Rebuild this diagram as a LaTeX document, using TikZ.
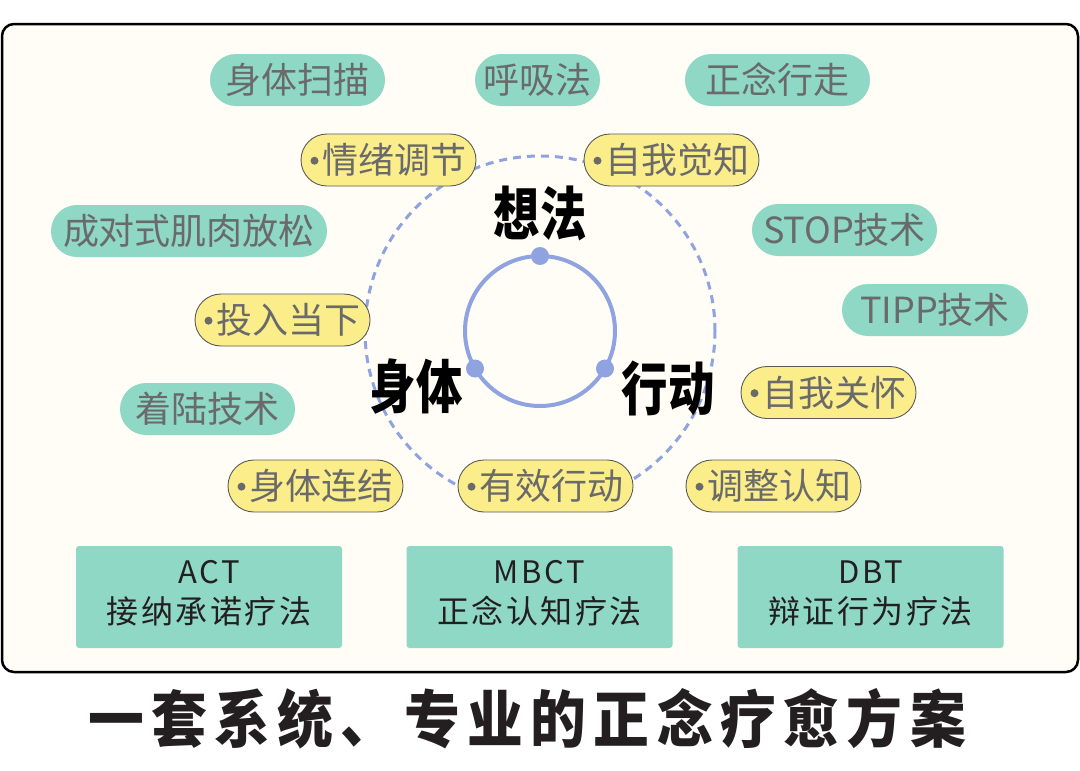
\documentclass[tikz,border=0pt]{standalone}
\usepackage{fontspec}
\newfontfamily\cjk{Noto Sans CJK SC}
\newfontfamily\cjksp[LetterSpace=8]{Noto Sans CJK SC}
\newfontfamily\cjklat[LetterSpace=9]{Noto Sans CJK SC}
\newfontfamily\cjkc[FakeStretch=0.8]{Noto Sans CJK SC}
\newfontfamily\cjkt[FakeStretch=0.9,LetterSpace=12]{Noto Sans CJK SC}
\definecolor{cream}{HTML}{FFFDF6}
\definecolor{pillgreen}{HTML}{8ED8C5}
\definecolor{pillyellow}{HTML}{FBEE8A}
\definecolor{txtgray}{HTML}{6A6A6A}
\definecolor{bordergray}{HTML}{5A5A5A}
\definecolor{ringblue}{HTML}{8EA3DF}
\definecolor{boxtext}{HTML}{231F20}
\newcommand\bul{\tikz[baseline=-0.36em]\fill[txtgray] (0,0) circle (4pt);\hspace{4pt}}
\tikzset{
  gpill/.style={fill=pillgreen, rounded corners=26pt, minimum height=52pt, inner sep=0pt,
    text=txtgray, font=\cjk\fontsize{36}{40}\selectfont},
  ypill/.style={gpill, fill=pillyellow, draw=bordergray, line width=0.9pt, minimum width=175pt},
  methodbox/.style={fill=pillgreen, rounded corners=3pt, minimum width=266pt, minimum height=102pt,
    inner sep=0pt},
  methodname/.style={font=\cjklat\fontsize{31}{31}\selectfont, text=boxtext, inner sep=0pt},
  methodcn/.style={font=\cjksp\fontsize{32}{32}\selectfont, text=boxtext, inner sep=0pt},
  corelabel/.style={font=\cjkc\bfseries\fontsize{58}{60}\selectfont, text=black, inner sep=0pt},
  dotmark/.style={fill=ringblue, circle, inner sep=0pt, minimum size=18pt}
}
\begin{document}
\begin{tikzpicture}[x=1pt,y=-1pt]
\useasboundingbox (0,0) rectangle (1080,771);
\fill[white] (0,0) rectangle (1080,771);
% frame
\draw[line width=2.5pt, fill=cream, rounded corners=12pt] (2,24) rectangle (1078,672);
% rings
\coordinate (c) at (540,331);
\draw[ringblue, line width=3pt, dash pattern=on 8pt off 6pt] (c) circle (175pt);
\draw[ringblue, line width=4pt] (c) circle (75pt);
\node[dotmark] (dtop) at (540,256) {};
\node[dotmark] (dleft) at (475,368.5) {};
\node[dotmark] (dright) at (605,368.5) {};
% core labels
\node[corelabel] (think) at (540,213) {想法};
\node[corelabel] (body) at (416,387) {身体};
\node[corelabel] (act) at (668,388) {行动};
% green pills
\node[gpill, minimum width=175pt] (p1) at (297.5,80) {身体扫描};
\node[gpill, minimum width=125pt] (p2) at (537.5,80) {呼吸法};
\node[gpill, minimum width=185pt] (p3) at (777.5,80) {正念行走};
\node[gpill, minimum width=276pt] (p4) at (189,231) {成对式肌肉放松};
\node[gpill, minimum width=185pt] (p5) at (844.5,230) {STOP技术};
\node[gpill, minimum width=186pt] (p6) at (935,310) {TIPP技术};
\node[gpill, minimum width=175pt] (p7) at (207.5,409) {着陆技术};
% yellow pills
\node[ypill] (y1) at (388.5,160) {\bul 情绪调节};
\node[ypill] (y2) at (671.5,160) {\bul 自我觉知};
\node[ypill] (y3) at (282.5,320) {\bul 投入当下};
\node[ypill] (y4) at (828.5,392.5) {\bul 自我关怀};
\node[ypill] (y5) at (315.5,486) {\bul 身体连结};
\node[ypill] (y6) at (545.5,486) {\bul 有效行动};
\node[ypill] (y7) at (773.5,486) {\bul 调整认知};
% method boxes
\node[methodbox] (m1) at (209,597) {};
\node[methodbox] (m2) at (539.5,597) {};
\node[methodbox] (m3) at (870.5,597) {};
\node[methodname] (m1a) at (209,572) {ACT};
\node[methodcn] (m1b) at (209,611) {接纳承诺疗法};
\node[methodname] (m2a) at (539.5,572) {MBCT};
\node[methodcn] (m2b) at (539.5,611) {正念认知疗法};
\node[methodname] (m3a) at (870.5,572) {DBT};
\node[methodcn] (m3b) at (870.5,611) {辩证行为疗法};
% title
\node[font=\cjkt\bfseries\fontsize{62}{64}\selectfont, text=boxtext, inner sep=0pt] (title) at (527,719) {一套系统、专业的正念疗愈方案};
\end{tikzpicture}
\end{document}
